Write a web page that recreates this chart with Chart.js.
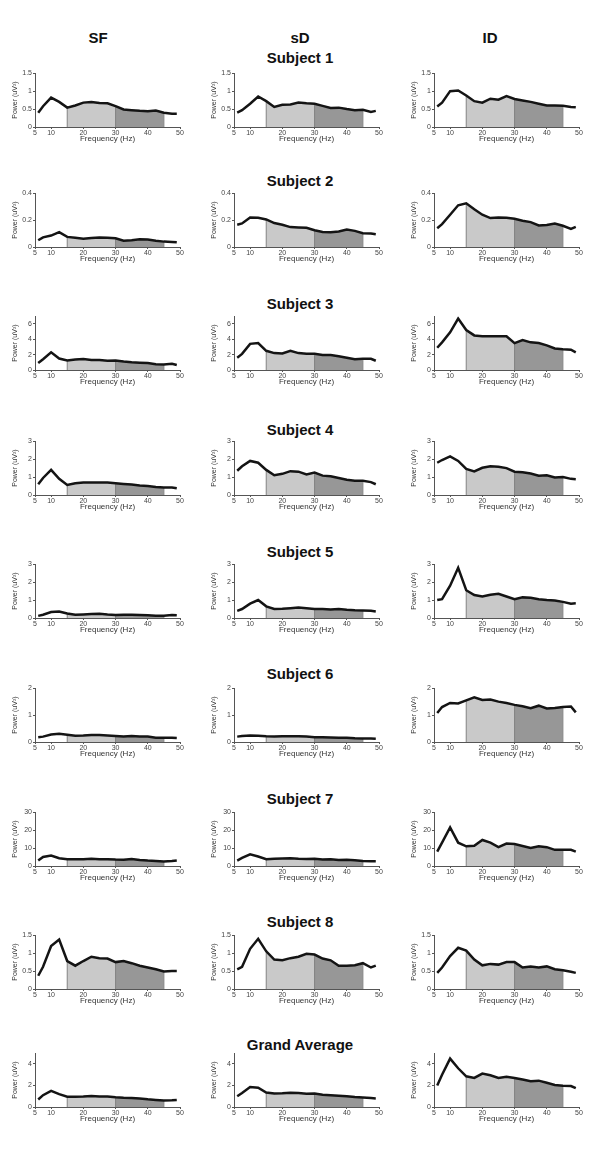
<!DOCTYPE html>
<html>
<head>
<meta charset="utf-8">
<script src="https://cdn.jsdelivr.net/npm/chart.js@4.4.0/dist/chart.umd.min.js"></script>
<style>
  html, body { margin: 0; padding: 0; background: #fff; }
  #page { position: relative; width: 600px; height: 1173px; overflow: hidden; font-family: "Liberation Sans", Arial, sans-serif; }
  .head { position: absolute; transform: translate(-50%, -50%); font-weight: bold; font-size: 15px; color: #111; white-space: nowrap; }
  .panel { position: absolute; }
</style>
</head>
<body>
<div id="page"></div>
<script>
// frequency grid (Hz) and axis ticks
const FREQS = [6, 7.5, 10, 12.5, 15, 17.5, 20, 22.5, 25, 27.5, 30, 32.5, 35, 37.5, 40, 42.5, 45, 47.5, 49];
const X_TICKS = [5, 10, 20, 30, 40, 50];
const CONDITIONS = ['SF', 'sD', 'ID'];
const ROW_TITLES = ['Subject 1', 'Subject 2', 'Subject 3', 'Subject 4', 'Subject 5', 'Subject 6', 'Subject 7', 'Subject 8', 'Grand Average'];
const Y_MAX = [1.5, 0.4, 7, 3, 3, 2, 30, 1.5, 5];
const Y_TICKS = [[0, 0.5, 1, 1.5], [0, 0.2, 0.4], [0, 2, 4, 6], [0, 1, 2, 3], [0, 1, 2, 3], [0, 1, 2], [0, 10, 20, 30], [0, 0.5, 1, 1.5], [0, 2, 4]];
const BAND_LOW = [15, 30];
const BAND_HIGH = [30, 45];

// power spectra, one array per subject / condition
const S1_SF = [0.40, 0.58, 0.82, 0.70, 0.54, 0.60, 0.68, 0.70, 0.67, 0.66, 0.58, 0.49, 0.47, 0.45, 0.44, 0.46, 0.40, 0.37, 0.37];
const S1_SD = [0.40, 0.47, 0.65, 0.85, 0.72, 0.56, 0.62, 0.63, 0.68, 0.66, 0.65, 0.59, 0.53, 0.54, 0.50, 0.47, 0.48, 0.42, 0.45];
const S1_ID = [0.57, 0.68, 1.00, 1.02, 0.88, 0.72, 0.68, 0.79, 0.76, 0.86, 0.78, 0.74, 0.70, 0.65, 0.60, 0.60, 0.59, 0.56, 0.55];

const S2_SF = [0.050, 0.072, 0.085, 0.110, 0.075, 0.068, 0.062, 0.067, 0.070, 0.068, 0.065, 0.046, 0.050, 0.057, 0.056, 0.047, 0.040, 0.038, 0.035];
const S2_SD = [0.165, 0.175, 0.220, 0.218, 0.205, 0.178, 0.165, 0.148, 0.145, 0.143, 0.125, 0.112, 0.110, 0.115, 0.130, 0.120, 0.103, 0.100, 0.095];
const S2_ID = [0.140, 0.170, 0.240, 0.310, 0.325, 0.280, 0.240, 0.215, 0.220, 0.218, 0.210, 0.195, 0.185, 0.160, 0.163, 0.175, 0.158, 0.135, 0.150];

const S3_SF = [0.9, 1.4, 2.3, 1.5, 1.25, 1.38, 1.42, 1.3, 1.3, 1.2, 1.25, 1.1, 1.0, 0.95, 0.9, 0.75, 0.72, 0.8, 0.65];
const S3_SD = [1.6, 2.1, 3.4, 3.5, 2.5, 2.2, 2.15, 2.5, 2.2, 2.1, 2.1, 1.95, 1.95, 1.8, 1.6, 1.4, 1.45, 1.45, 1.2];
const S3_ID = [2.9, 3.6, 4.9, 6.7, 5.2, 4.5, 4.4, 4.4, 4.4, 4.4, 3.5, 3.9, 3.6, 3.5, 3.2, 2.8, 2.7, 2.65, 2.3];

const S4_SF = [0.6, 0.95, 1.4, 0.9, 0.56, 0.66, 0.7, 0.7, 0.7, 0.7, 0.66, 0.62, 0.58, 0.53, 0.5, 0.45, 0.42, 0.42, 0.38];
const S4_SD = [1.35, 1.6, 1.9, 1.8, 1.4, 1.1, 1.18, 1.33, 1.3, 1.15, 1.25, 1.08, 1.05, 0.95, 0.85, 0.8, 0.8, 0.72, 0.6];
const S4_ID = [1.8, 1.95, 2.15, 1.9, 1.45, 1.32, 1.52, 1.6, 1.58, 1.5, 1.3, 1.27, 1.2, 1.08, 1.1, 0.98, 1.0, 0.9, 0.88];

const S5_SF = [0.12, 0.18, 0.33, 0.36, 0.25, 0.18, 0.2, 0.22, 0.24, 0.2, 0.17, 0.18, 0.18, 0.17, 0.15, 0.12, 0.13, 0.17, 0.16];
const S5_SD = [0.4, 0.5, 0.8, 1.0, 0.65, 0.5, 0.52, 0.55, 0.58, 0.55, 0.5, 0.5, 0.48, 0.5, 0.46, 0.43, 0.42, 0.4, 0.36];
const S5_ID = [1.0, 1.05, 1.8, 2.8, 1.55, 1.28, 1.2, 1.3, 1.35, 1.2, 1.05, 1.15, 1.13, 1.05, 1.0, 0.97, 0.9, 0.8, 0.82];

const S6_SF = [0.18, 0.2, 0.28, 0.31, 0.27, 0.23, 0.24, 0.26, 0.26, 0.24, 0.22, 0.2, 0.22, 0.2, 0.2, 0.16, 0.16, 0.16, 0.15];
const S6_SD = [0.2, 0.22, 0.24, 0.23, 0.21, 0.2, 0.21, 0.21, 0.21, 0.2, 0.18, 0.18, 0.17, 0.16, 0.16, 0.14, 0.13, 0.13, 0.12];
const S6_ID = [1.08, 1.3, 1.45, 1.43, 1.55, 1.66, 1.56, 1.58, 1.5, 1.45, 1.38, 1.33, 1.26, 1.35, 1.25, 1.26, 1.3, 1.32, 1.1];

const S7_SF = [3, 5, 5.8, 4.3, 3.8, 3.7, 3.7, 4.0, 3.7, 3.8, 3.6, 3.5, 3.9, 3.3, 3.0, 2.8, 2.5, 2.8, 3.1];
const S7_SD = [3, 4.5, 6.5, 5.3, 3.8, 4.1, 4.2, 4.3, 4.0, 3.9, 4.0, 3.6, 3.8, 3.3, 3.5, 3.2, 2.8, 2.7, 2.7];
const S7_ID = [8, 13, 21.5, 13, 11, 11.3, 14.5, 13, 10.5, 12.5, 12.3, 11.2, 10, 11, 10.5, 9, 9, 9, 8];

const S8_SF = [0.37, 0.62, 1.2, 1.38, 0.78, 0.65, 0.78, 0.9, 0.86, 0.85, 0.75, 0.78, 0.72, 0.65, 0.6, 0.55, 0.49, 0.5, 0.5];
const S8_SD = [0.55, 0.62, 1.12, 1.4, 1.05, 0.82, 0.8, 0.86, 0.9, 0.98, 0.96, 0.85, 0.8, 0.65, 0.65, 0.66, 0.72, 0.6, 0.65];
const S8_ID = [0.45, 0.6, 0.92, 1.15, 1.07, 0.82, 0.66, 0.7, 0.68, 0.75, 0.75, 0.6, 0.63, 0.6, 0.63, 0.55, 0.52, 0.48, 0.45];

const GA_SF = [0.7, 1.1, 1.5, 1.2, 0.95, 0.95, 0.97, 1.03, 0.98, 0.98, 0.9, 0.86, 0.84, 0.8, 0.72, 0.66, 0.6, 0.62, 0.65];
const GA_SD = [1.0, 1.3, 1.85, 1.8, 1.35, 1.25, 1.27, 1.32, 1.3, 1.23, 1.25, 1.13, 1.1, 1.05, 1.0, 0.93, 0.88, 0.83, 0.8];
const GA_ID = [2.0, 3.0, 4.5, 3.6, 2.85, 2.7, 3.1, 2.95, 2.7, 2.8, 2.7, 2.55, 2.4, 2.45, 2.25, 2.05, 1.97, 1.95, 1.75];

const SERIES = [
  [S1_SF, S1_SD, S1_ID], [S2_SF, S2_SD, S2_ID], [S3_SF, S3_SD, S3_ID],
  [S4_SF, S4_SD, S4_ID], [S5_SF, S5_SD, S5_ID], [S6_SF, S6_SD, S6_ID],
  [S7_SF, S7_SD, S7_ID], [S8_SF, S8_SD, S8_ID], [GA_SF, GA_SD, GA_ID]
];

// layout
const COL_LEFT = [35, 234, 434];
const PLOT_W = 145, PLOT_H = 54;
const Y_AXIS_W = 24, X_AXIS_H = 17, PAD_TOP = 5, PAD_RIGHT = 6;
const ROW_ZERO = [127, 247, 370, 495, 618, 742, 866, 989, 1107];
const TITLE_Y = [57, 180, 303, 429, 551, 673, 798, 921, 1044];
const HEAD_X = [98, 300, 490];
const HEAD_Y = 37;

Chart.defaults.font.family = '"Liberation Sans", Arial, sans-serif';

const page = document.getElementById('page');

function addText(text, x, y) {
  const d = document.createElement('div');
  d.className = 'head';
  d.textContent = text;
  d.style.left = x + 'px';
  d.style.top = y + 'px';
  page.appendChild(d);
}

CONDITIONS.forEach((c, i) => addText(c, HEAD_X[i], HEAD_Y));
ROW_TITLES.forEach((t, r) => addText(t, 300, TITLE_Y[r]));

function makePanel(r, c) {
  const vals = SERIES[r][c];
  const pts = FREQS.map((f, i) => ({ x: f, y: vals[i] }));
  const band = (lo, hi) => pts.filter(p => p.x >= lo && p.x <= hi);
  const edge = f => {
    const p = pts.find(q => q.x === f);
    return [{ x: f, y: 0 }, { x: f, y: p.y }];
  };

  const wrap = document.createElement('div');
  wrap.className = 'panel';
  wrap.style.left = (COL_LEFT[c] - Y_AXIS_W) + 'px';
  wrap.style.top = (ROW_ZERO[r] - PLOT_H - PAD_TOP) + 'px';
  const canvas = document.createElement('canvas');
  canvas.width = Y_AXIS_W + PLOT_W + PAD_RIGHT;
  canvas.height = PAD_TOP + PLOT_H + X_AXIS_H;
  wrap.appendChild(canvas);
  page.appendChild(wrap);

  const edgeSet = f => ({
    data: edge(f), borderColor: '#808080', borderWidth: 1, pointRadius: 0, fill: false, order: 1
  });

  new Chart(canvas.getContext('2d'), {
    type: 'line',
    data: {
      datasets: [
        {
          data: pts,
          borderColor: '#141414',
          borderWidth: 2.5,
          pointRadius: 0,
          fill: false,
          tension: 0,
          order: 0
        },
        edgeSet(BAND_LOW[0]), edgeSet(BAND_LOW[1]), edgeSet(BAND_HIGH[1]),
        {
          data: band(BAND_LOW[0], BAND_HIGH[0]),
          borderWidth: 0,
          pointRadius: 0,
          backgroundColor: '#c9c9c9',
          fill: 'origin',
          order: 2
        },
        {
          data: band(BAND_LOW[1], BAND_HIGH[1]),
          borderWidth: 0,
          pointRadius: 0,
          backgroundColor: '#979797',
          fill: 'origin',
          order: 2
        }
      ]
    },
    options: {
      responsive: false,
      animation: false,
      events: [],
      layout: { padding: { top: PAD_TOP, right: PAD_RIGHT, left: 0, bottom: 0 } },
      plugins: { legend: { display: false }, tooltip: { enabled: false } },
      scales: {
        x: {
          type: 'linear',
          min: 5,
          max: 50,
          afterBuildTicks: s => { s.ticks = X_TICKS.map(v => ({ value: v })); },
          afterFit: s => { s.height = X_AXIS_H; },
          grid: { drawOnChartArea: false, tickLength: 2, color: '#555' },
          border: { color: '#555', width: 1 },
          ticks: { font: { size: 7 }, color: '#444', padding: 0, maxRotation: 0, autoSkip: false, callback: v => String(v) },
          title: { display: true, text: 'Frequency (Hz)', font: { size: 8 }, color: '#333', padding: 0 }
        },
        y: {
          type: 'linear',
          min: 0,
          max: Y_MAX[r],
          afterBuildTicks: s => { s.ticks = Y_TICKS[r].map(v => ({ value: v })); },
          afterFit: s => { s.width = Y_AXIS_W; },
          grid: { drawOnChartArea: false, tickLength: 2, color: '#555' },
          border: { color: '#555', width: 1 },
          ticks: { font: { size: 7 }, color: '#444', padding: 1, autoSkip: false, callback: v => String(v) },
          title: { display: true, text: 'Power (uV\u00B2)', font: { size: 7 }, color: '#333', padding: 0 }
        }
      }
    }
  });
}

for (let r = 0; r < SERIES.length; r++) {
  for (let c = 0; c < 3; c++) makePanel(r, c);
}
</script>
</body>
</html>
